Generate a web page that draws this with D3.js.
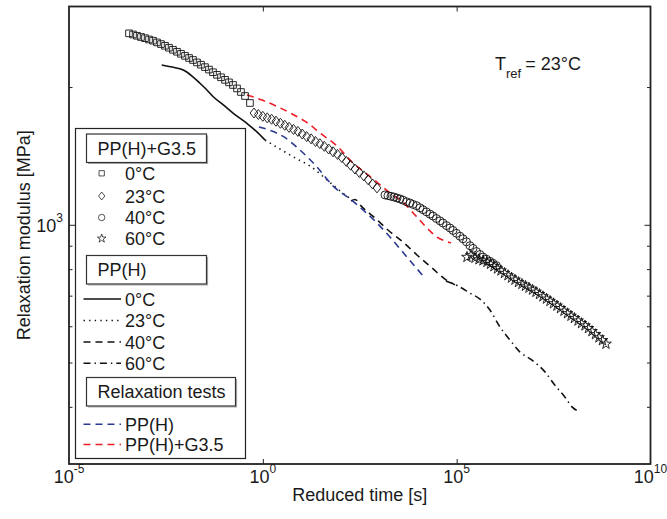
<!DOCTYPE html>
<html>
<head>
<meta charset="utf-8">
<script src="https://cdn.jsdelivr.net/npm/d3@7"></script>
<style>
  body { margin: 0; background: #fff; }
  svg { display: block; font-family: "Liberation Sans", Arial, Helvetica, sans-serif; }
</style>
</head>
<body>
<div id="chart"></div>
<script>
// ---- data (time in s, modulus in MPa) ----
const xTickVals = [1e-5, 1e0, 1e5, 1e10];
const xTickExp = ['-5', '0', '5', '10'];
const yMajorTicks = [1000];
const yMajorExp = ['3'];
const yMinorTicks = [400, 500, 600, 700, 800, 900, 2000];

// PP(H)+G3.5 master curve markers
const g0_t = [3.53e-4, 4.48e-4, 5.67e-4, 7.20e-4, 9.12e-4, 1.16e-3, 1.47e-3, 1.86e-3, 2.36e-3, 2.99e-3, 3.79e-3, 4.81e-3, 6.10e-3, 7.74e-3, 9.82e-3, 0.0125, 0.0158, 0.0200, 0.0254, 0.0322, 0.0408, 0.0518, 0.0657, 0.0833, 0.106, 0.134, 0.170, 0.216, 0.273, 0.347, 0.466];
const g0_E = [2621, 2606, 2589, 2573, 2558, 2541, 2526, 2504, 2483, 2462, 2438, 2413, 2389, 2365, 2340, 2315, 2292, 2264, 2238, 2211, 2184, 2155, 2127, 2101, 2074, 2048, 2021, 1986, 1951, 1912, 1846];
const g23_t = [0.591, 0.767, 0.997, 1.295, 1.68, 2.18, 2.84, 3.68, 4.75, 6.17, 8.02, 10.4, 13.5, 17.6, 22.8, 29.6, 38.5, 50.0, 64.9, 84.3, 109, 142, 183, 238, 309, 402, 522, 677, 880];
const g23_E = [1755, 1742, 1726, 1713, 1701, 1684, 1667, 1650, 1633, 1616, 1600, 1579, 1559, 1541, 1521, 1504, 1484, 1464, 1444, 1425, 1403, 1376, 1350, 1324, 1301, 1279, 1254, 1228, 1204];
const g40_t = [1415, 1690, 2020, 2415, 2885, 3450, 4120, 5070, 6250, 7460, 9190, 11300, 13500, 16600, 20500, 24500, 30100, 37100, 44300, 54600, 67200, 80300, 98800, 121700, 145400, 179000, 220000, 263300, 324000, 399000, 477000, 587000, 723000, 864000, 1.064e6];
const g40_E = [1162, 1158, 1154, 1150, 1144, 1139, 1132, 1123, 1116, 1108, 1101, 1089, 1079, 1067, 1055, 1045, 1032, 1020, 1009, 996, 984, 972, 958, 944, 932, 918, 900, 888, 874, 861, 850, 841, 832, 824, 814];
const g60_t = [1.845e5, 2.339e5, 2.965e5, 3.759e5, 4.767e5, 6.048e5, 7.447e5, 9.167e5, 1.128e6, 1.389e6, 1.710e6, 2.105e6, 2.590e6, 3.190e6, 3.927e6, 4.83e6, 5.95e6, 7.33e6, 9.02e6, 1.11e7, 1.37e7, 1.68e7, 2.07e7, 2.55e7, 3.14e7, 3.87e7, 4.76e7, 5.86e7, 7.21e7, 8.88e7, 1.09e8, 1.35e8, 1.66e8, 2.04e8, 2.51e8, 3.09e8, 3.80e8, 4.68e8, 5.76e8, 7.10e8];
const g60_E = [850, 857, 846, 840, 835, 829, 821, 811, 802, 794, 784, 775, 766, 758, 749, 742, 735, 728, 721, 713, 705, 697, 689, 681, 673, 665, 657, 648, 640, 632, 625, 617, 609, 602, 594, 585, 576, 567, 559, 549];

// PP(H) master curve lines
const p0_t = [2.46e-3, 4.54e-3, 8.87e-3, 0.0149, 0.0239, 0.0342, 0.0527, 0.0955, 0.173, 0.383, 0.693, 1.135];
const p0_E = [2235, 2212, 2179, 2114, 2039, 1980, 1905, 1828, 1753, 1667, 1598, 1532];
const p23_t = [1.135, 2.77, 7.60, 16.4, 45.2, 97.7, 199];
const p23_E = [1532, 1464, 1393, 1345, 1253, 1186, 1133];
const p40_t = [188, 238, 361, 782, 1690, 4120, 9460, 23070, 49900, 90300];
const p40_E = [1127, 1136, 1094, 1035, 974, 917, 859, 805, 761, 739];
const p60_t = [53000, 108000, 220000, 399000, 723000, 1.31e6, 2.37e6, 4.30e6, 8.75e6, 1.89e7, 3.43e7, 6.21e7, 9.42e7, 1.51e8];
const p60_E = [754, 735, 709, 688, 651, 598, 560, 527, 506, 477, 446, 420, 400, 390];

// relaxation tests
const rPP_t = [0.796, 1.72, 3.51, 9.08, 24.9, 64.4, 177, 383, 879, 1905, 5220, 14350];
const rPP_E = [1636, 1603, 1556, 1457, 1338, 1216, 1139, 1078, 1009, 940, 850, 769];
const rG_t = [0.390, 0.951, 2.46, 6.36, 15.5, 29.8, 81.8, 211, 485, 933, 1905, 4120, 8910, 19300, 31000, 49900, 71300];
const rG_E = [1922, 1874, 1809, 1738, 1661, 1587, 1487, 1365, 1291, 1234, 1174, 1121, 1045, 974, 940, 922, 913];

// ---- layout ----
const W = 667, H = 519;
const plot = {left: 69, right: 650.5, top: 6.5, bottom: 464};
const BLUE = '#2b3990', RED = '#ed1c24';
const FS = 18;

const svg = d3.select('#chart').append('svg')
  .attr('width', W).attr('height', H);
svg.append('rect').attr('width', W).attr('height', H).attr('fill', '#fff');

const x = d3.scaleLog().domain([1e-5, 1e10]).range([plot.left, plot.right]);
const y = d3.scaleLog().domain([300, 3000]).range([plot.bottom, plot.top]);

const zip = (ts, es) => ts.map((t, i) => ({t: t, E: es[i]}));

// ---- axes (inward ticks on all four sides) ----
const tickColor = '#222';
function tickAxis(axis, tx, ty) {
  const g = svg.append('g').attr('transform', `translate(${tx},${ty})`).call(axis);
  g.select('.domain').remove();
  g.selectAll('line').attr('stroke', tickColor);
  g.selectAll('text').remove();
  return g;
}
tickAxis(d3.axisBottom(x).tickValues(xTickVals.slice(1, 3)).tickSize(-5), 0, plot.bottom);
tickAxis(d3.axisTop(x).tickValues(xTickVals.slice(1, 3)).tickSize(-5), 0, plot.top);
tickAxis(d3.axisLeft(y).tickValues(yMajorTicks).tickSize(-6), plot.left, 0);
tickAxis(d3.axisLeft(y).tickValues(yMinorTicks).tickSize(-3.5), plot.left, 0);
tickAxis(d3.axisRight(y).tickValues(yMajorTicks).tickSize(-6), plot.right, 0);
tickAxis(d3.axisRight(y).tickValues(yMinorTicks).tickSize(-3.5), plot.right, 0);

svg.append('rect')
  .attr('x', plot.left).attr('y', plot.top)
  .attr('width', plot.right - plot.left).attr('height', plot.bottom - plot.top)
  .attr('fill', 'none').attr('stroke', '#222').attr('stroke-width', 1.8);

// tick labels: 10 with superscript exponent
const labelColor = '#1a1a1a';
xTickVals.forEach((v, i) => {
  const t = svg.append('text')
    .attr('x', x(v)).attr('y', 483)
    .attr('text-anchor', 'middle')
    .attr('font-size', FS).attr('fill', labelColor);
  t.append('tspan').text('10');
  t.append('tspan').attr('dy', -10).attr('font-size', 12).text(xTickExp[i]);
});
yMajorTicks.forEach((v, i) => {
  const t = svg.append('text')
    .attr('x', 63).attr('y', y(v) + 7)
    .attr('text-anchor', 'end')
    .attr('font-size', FS).attr('fill', labelColor);
  t.append('tspan').text('10');
  t.append('tspan').attr('dy', -10).attr('font-size', 12).text(yMajorExp[i]);
});

svg.append('text')
  .attr('x', (plot.left + plot.right) / 2).attr('y', 501)
  .attr('text-anchor', 'middle').attr('font-size', FS).attr('fill', labelColor)
  .text('Reduced time [s]');
svg.append('text')
  .attr('transform', `translate(30,${(plot.top + plot.bottom) / 2}) rotate(-90)`)
  .attr('text-anchor', 'middle').attr('font-size', FS).attr('fill', labelColor)
  .text('Relaxation modulus [MPa]');

// T_ref annotation
const tref = svg.append('text').attr('x', 495).attr('y', 70)
  .attr('font-size', FS).attr('fill', labelColor);
tref.append('tspan').text('T');
tref.append('tspan').attr('dy', 8).attr('font-size', 13).text('ref');
tref.append('tspan').attr('dy', -8).attr('dx', 4).text('= 23°C');

// ---- curves ----
const line = d3.line()
  .x(d => x(d.t)).y(d => y(d.E))
  .curve(d3.curveMonotoneX);

const styles = {
  solid: null,
  dotted: '1.4,4.2',
  dashed: '7,5',
  dashdot: '7,4,1.4,4'
};

const plotArea = svg.append('g');
function drawLine(data, color, dash) {
  plotArea.append('path')
    .datum(data)
    .attr('d', line)
    .attr('fill', 'none')
    .attr('stroke', color)
    .attr('stroke-width', 1.6)
    .attr('stroke-dasharray', dash);
}
drawLine(zip(p0_t, p0_E), '#111', styles.solid);
drawLine(zip(p23_t, p23_E), '#111', styles.dotted);
drawLine(zip(p40_t, p40_E), '#111', styles.dashed);
drawLine(zip(p60_t, p60_E), '#111', styles.dashdot);
drawLine(zip(rPP_t, rPP_E), BLUE, styles.dashed);
drawLine(zip(rG_t, rG_E), RED, styles.dashed);

// ---- markers ----
const diamondPath = 'M0,-5L3.9,0L0,5L-3.9,0Z';
const markerPaths = {
  square: d3.symbol(d3.symbolSquare, 44)(),
  diamond: diamondPath,
  circle: d3.symbol(d3.symbolCircle, 50)(),
  star: d3.symbol(d3.symbolStar, 36)()
};

function drawMarkers(data, kind) {
  plotArea.selectAll(null)
    .data(data)
    .enter()
    .append('path')
    .attr('d', markerPaths[kind])
    .attr('transform', d => `translate(${x(d.t)},${y(d.E)})`)
    .attr('fill', 'none')
    .attr('stroke', '#111')
    .attr('stroke-width', 0.9);
}
drawMarkers(zip(g0_t, g0_E), 'square');
drawMarkers(zip(g23_t, g23_E), 'diamond');
drawMarkers(zip(g40_t, g40_E), 'circle');
drawMarkers(zip(g60_t, g60_E), 'star');

// ---- legend ----
const lg = svg.append('g');
lg.append('rect')
  .attr('x', 75.5).attr('y', 128.5).attr('width', 170).attr('height', 330)
  .attr('fill', '#fff').attr('stroke', '#222').attr('stroke-width', 1.2);

function titleBox(x0, y0, w, h, label) {
  lg.append('path')
    .attr('d', `M${x0 + 1.5},${y0 + h + 1}H${x0 + w + 1}V${y0 + 1.5}`)
    .attr('fill', 'none').attr('stroke', '#aaa').attr('stroke-width', 1.2);
  lg.append('rect')
    .attr('x', x0).attr('y', y0).attr('width', w).attr('height', h)
    .attr('fill', '#fff').attr('stroke', '#333').attr('stroke-width', 1.2);
  lg.append('text')
    .attr('x', x0 + 11).attr('y', y0 + h / 2 + 6.5)
    .attr('font-size', FS).attr('fill', labelColor)
    .text(label);
}
function itemLabel(cy, label) {
  lg.append('text')
    .attr('x', 125).attr('y', cy + 6.5)
    .attr('font-size', FS).attr('fill', labelColor)
    .text(label);
}

titleBox(86.5, 134, 120, 28.5, 'PP(H)+G3.5');
[['square', '0°C', 173.3], ['diamond', '23°C', 196], ['circle', '40°C', 217.5], ['star', '60°C', 238.5]]
  .forEach(([kind, label, cy]) => {
    lg.append('path')
      .attr('d', markerPaths[kind])
      .attr('transform', `translate(101.7,${cy}) scale(0.8)`)
      .attr('fill', 'none').attr('stroke', '#111').attr('stroke-width', 0.9);
    itemLabel(cy, label);
  });

titleBox(86.5, 255.5, 120, 28.5, 'PP(H)');
[['solid', '0°C', 299], ['dotted', '23°C', 320.5], ['dashed', '40°C', 342], ['dashdot', '60°C', 363.3]]
  .forEach(([st, label, cy]) => {
    lg.append('line')
      .attr('x1', 83.5).attr('x2', 121).attr('y1', cy).attr('y2', cy)
      .attr('stroke', '#111').attr('stroke-width', 1.6)
      .attr('stroke-dasharray', styles[st]);
    itemLabel(cy, label);
  });

titleBox(86.5, 377.5, 149, 28.5, 'Relaxation tests');
[[BLUE, 'PP(H)', 424.3], [RED, 'PP(H)+G3.5', 444.5]]
  .forEach(([c, label, cy]) => {
    lg.append('line')
      .attr('x1', 83.5).attr('x2', 121).attr('y1', cy).attr('y2', cy)
      .attr('stroke', c).attr('stroke-width', 1.6)
      .attr('stroke-dasharray', styles.dashed);
    itemLabel(cy, label);
  });
</script>
</body>
</html>
